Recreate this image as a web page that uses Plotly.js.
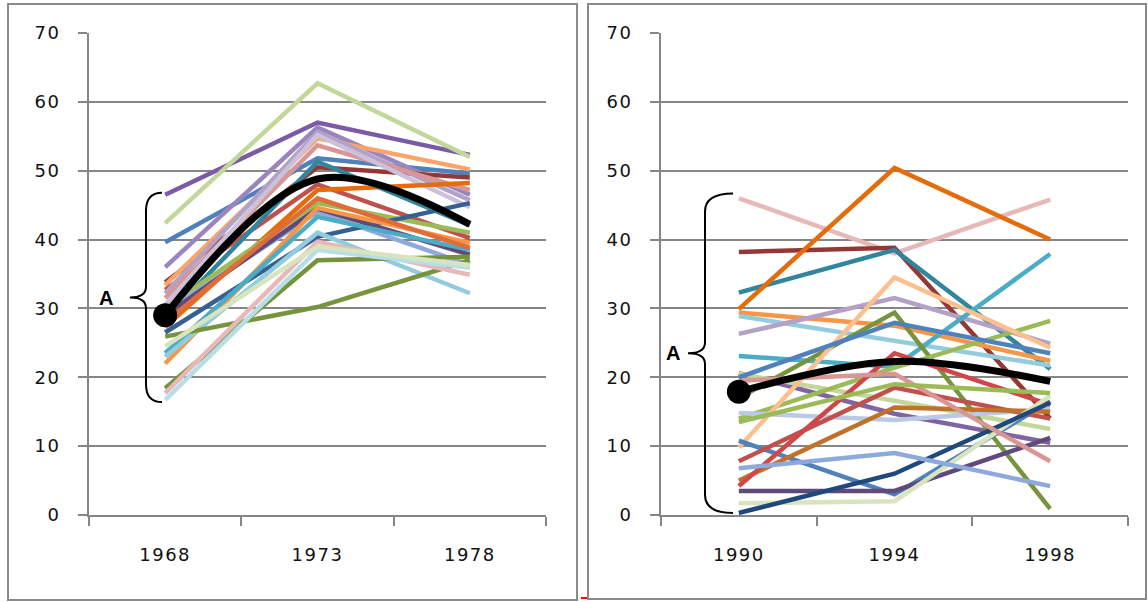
<!DOCTYPE html>
<html>
<head>
<meta charset="utf-8">
<script src="https://cdn.plot.ly/plotly-3.0.1.min.js"></script>
<style>
html,body{margin:0;padding:0;background:#fff;}
#chart{width:1148px;height:602px;}
#chart .xtick text, #chart .ytick text, #chart .x2tick text, #chart .y2tick text{letter-spacing:1.5px;}
</style>
</head>
<body>
<div id="chart"></div>
<script>
// ---- data ----
const leftYears = ['1968', '1973', '1978'];
const rightYears = ['1990', '1994', '1998'];

const leftValues = [
  [46.5, 57.0, 52.3],
  [42.4, 62.7, 52.0],
  [39.6, 51.8, 49.6],
  [36.0, 56.3, 46.5],
  [33.8, 50.5, 49.0],
  [33.4, 54.7, 50.2],
  [32.7, 48.0, 40.2],
  [32.2, 55.6, 45.7],
  [31.5, 53.7, 47.2],
  [30.5, 55.2, 44.7],
  [27.3, 47.2, 48.2],
  [28.5, 51.3, 42.1],
  [30.0, 45.3, 41.0],
  [29.5, 44.0, 36.3],
  [26.5, 40.4, 45.3],
  [29.0, 44.5, 37.8],
  [22.0, 44.6, 39.5],
  [23.5, 43.3, 38.5],
  [23.0, 41.0, 32.2],
  [25.9, 30.2, 37.0],
  [18.4, 37.0, 37.5],
  [17.7, 39.7, 34.9],
  [16.7, 38.5, 35.9],
  [28.0, 46.0, 38.8],
  [24.5, 39.0, 36.3]
];
const leftMean = [29.0, 48.8, 42.2];

const rightValues = [
  [46.0, 38.0, 45.8],
  [38.2, 38.8, 14.0],
  [32.3, 38.5, 21.2],
  [29.9, 50.4, 40.0],
  [29.4, 27.5, 22.4],
  [28.9, 25.3, 21.7],
  [26.3, 31.5, 24.9],
  [23.1, 21.5, 37.9],
  [20.6, 14.7, 10.5],
  [20.5, 16.6, 12.5],
  [17.0, 29.4, 0.9],
  [14.0, 21.4, 28.2],
  [14.8, 13.8, 15.4],
  [9.8, 34.5, 24.3],
  [10.8, 3.0, 16.5],
  [7.8, 18.5, 14.0],
  [5.0, 15.6, 15.0],
  [4.2, 23.5, 16.0],
  [3.5, 3.5, 11.2],
  [1.7, 2.0, 17.3],
  [0.3, 6.0, 16.3],
  [6.8, 9.0, 4.2],
  [19.5, 20.5, 7.8],
  [13.5, 19.0, 17.7],
  [20.0, 27.9, 23.5]
];
const rightMean = [17.9, 22.3, 19.4];

const yTicks = [0, 10, 20, 30, 40, 50, 60, 70];
const braceLabel = 'A';

// ---- styles ----
const leftColors = ['#7B5BA6','#C4D79B','#4F81BD','#9A85BE','#953735','#FAA36A','#C0504D','#B3A2C7',
  '#D99694','#CCC1DA','#E46C0A','#31859C','#9BBB59','#8EA9DB','#376092','#604A7B','#F79646',
  '#4BACC6','#93CDDD','#77933C','#76923C','#E6B9B8','#B7DEE8','#E26B3A','#D7E4BD'];
const rightColors = ['#E6B9B8','#953735','#31859C','#E46C0A','#F79646','#93CDDD','#B3A2C7','#4BACC6',
  '#8064A2','#C4D79B','#77933C','#9BBB59','#B9C9E6','#FAC090','#4F81BD','#C0504D','#C0722A','#D0474A',
  '#604A7B','#D7E4BD','#1F497D','#8EA9DB','#D99694','#9BBB59','#4F81BD'];

const W = 1148, H = 602;
const px = v => v / W;
const py = v => (H - v) / H;

const traces = [];
leftValues.forEach((row, i) => traces.push({
  x: leftYears, y: row, xaxis: 'x', yaxis: 'y', type: 'scatter', mode: 'lines',
  line: {color: leftColors[i % leftColors.length], width: 4.5}, hoverinfo: 'skip', showlegend: false
}));
rightValues.forEach((row, i) => traces.push({
  x: rightYears, y: row, xaxis: 'x2', yaxis: 'y2', type: 'scatter', mode: 'lines',
  line: {color: rightColors[i % rightColors.length], width: 4.5}, hoverinfo: 'skip', showlegend: false
}));
traces.push({x: leftYears, y: leftMean, xaxis: 'x', yaxis: 'y', type: 'scatter', mode: 'lines',
  line: {color: '#000', width: 7, shape: 'spline', smoothing: 1}, showlegend: false});
traces.push({x: rightYears, y: rightMean, xaxis: 'x2', yaxis: 'y2', type: 'scatter', mode: 'lines',
  line: {color: '#000', width: 7, shape: 'spline', smoothing: 1}, showlegend: false});
traces.push({x: [leftYears[0]], y: [leftMean[0]], xaxis: 'x', yaxis: 'y', type: 'scatter', mode: 'markers',
  marker: {color: '#000', size: 24}, showlegend: false});
traces.push({x: [rightYears[0]], y: [rightMean[0]], xaxis: 'x2', yaxis: 'y2', type: 'scatter', mode: 'markers',
  marker: {color: '#000', size: 24}, showlegend: false});

const tickFont = {family: 'DejaVu Sans, Verdana, sans-serif', size: 18, color: '#111'};
const xAxisBase = {
  type: 'category', range: [-0.5, 2.5], showline: true, linecolor: '#868686', linewidth: 2,
  ticks: 'outside', tickson: 'boundaries', ticklen: 9, tickwidth: 2, tickcolor: '#868686',
  showgrid: false, zeroline: false, tickfont: tickFont, ticklabelstandoff: 22, fixedrange: true
};
const yAxisBase = {
  range: [0, 70], tickvals: yTicks, showgrid: true, gridcolor: '#868686', gridwidth: 2,
  showline: true, linecolor: '#868686', linewidth: 2, ticks: 'outside', ticklen: 9, tickwidth: 2,
  tickcolor: '#868686', zeroline: false, tickfont: tickFont, ticklabelstandoff: 14, fixedrange: true
};

function brace(xEnd, xMid, xTip, yTop, yBot, yref) {
  const yc = (yTop + yBot) / 2;
  const r = 2.6;
  const a = px(xEnd), b = px(xMid), c = px(xTip);
  const d = `M ${a},${yTop} Q ${b},${yTop} ${b},${yTop - r} L ${b},${yc + r * 0.6} ` +
    `Q ${b},${yc} ${c},${yc} Q ${b},${yc} ${b},${yc - r * 0.6} L ${b},${yBot + r} Q ${b},${yBot} ${a},${yBot}`;
  return {type: 'path', xref: 'paper', yref: yref, path: d, line: {color: '#000', width: 2}};
}

const layout = {
  width: W, height: H, margin: {l: 0, r: 0, t: 0, b: 0},
  paper_bgcolor: '#fff', plot_bgcolor: 'rgba(0,0,0,0)', showlegend: false,
  xaxis: Object.assign({}, xAxisBase, {domain: [px(89), px(546)], anchor: 'y'}),
  yaxis: Object.assign({}, yAxisBase, {domain: [py(515), py(33)], anchor: 'x'}),
  xaxis2: Object.assign({}, xAxisBase, {domain: [px(661), px(1128)], anchor: 'y2'}),
  yaxis2: Object.assign({}, yAxisBase, {domain: [py(515), py(33)], anchor: 'x2'}),
  shapes: [
    {type: 'rect', xref: 'paper', yref: 'paper', x0: px(8), x1: px(577), y0: py(600), y1: py(4),
      line: {color: '#8a8a8a', width: 2}, layer: 'below'},
    {type: 'rect', xref: 'paper', yref: 'paper', x0: px(588), x1: px(1146), y0: py(599), y1: py(4),
      line: {color: '#8a8a8a', width: 2}, layer: 'below'},
    {type: 'line', xref: 'paper', yref: 'paper', x0: px(581), x1: px(587), y0: py(598), y1: py(598),
      line: {color: '#ff0000', width: 2}},
    brace(162, 146, 130, 46.8, 16.4, 'y'),
    brace(733, 705, 688, 46.7, 0.3, 'y2')
  ],
  annotations: [
    {xref: 'paper', yref: 'paper', x: px(106), y: py(298), text: braceLabel, showarrow: false,
      font: {family: 'Liberation Sans, Arial, sans-serif', size: 20, color: '#000', weight: 'bold'},
      xanchor: 'center', yanchor: 'middle'},
    {xref: 'paper', yref: 'paper', x: px(673), y: py(353), text: braceLabel, showarrow: false,
      font: {family: 'Liberation Sans, Arial, sans-serif', size: 20, color: '#000', weight: 'bold'},
      xanchor: 'center', yanchor: 'middle'}
  ]
};

Plotly.newPlot('chart', traces, layout, {staticPlot: true, displayModeBar: false});
</script>
</body>
</html>
